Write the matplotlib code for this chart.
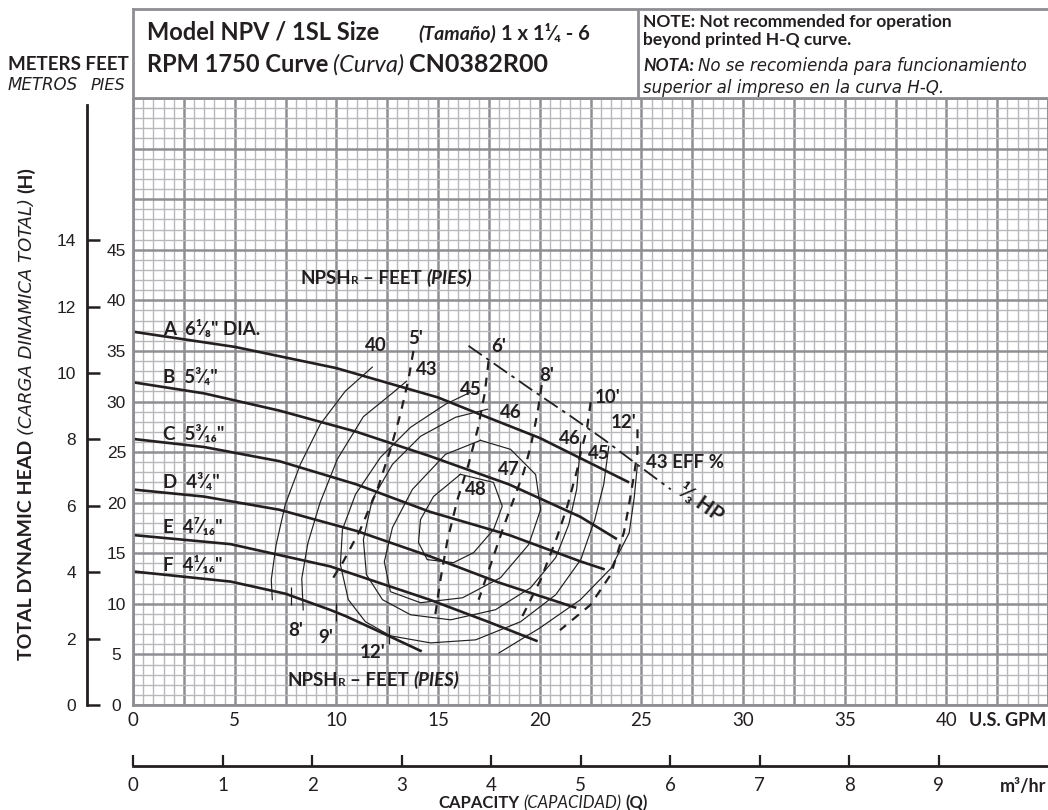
import numpy as np
import matplotlib
matplotlib.use('Agg')
import matplotlib.pyplot as plt
from matplotlib.transforms import IdentityTransform

plt.rcParams['font.family'] = ['Lato', 'DejaVu Sans']

INK = '#231f20'
GRID_MAJOR = '#8e8e93'
GRID_MINOR = '#b8b8bc'
PLAIN = ['Liberation Sans', 'DejaVu Sans']
WIDE = ['DejaVu Sans']

W, H = 1048, 810

# impeller head curves, U.S. GPM / feet
a_q = [0, 5, 10, 15, 17.1, 20, 22, 24.4]
a_h = [36.9, 35.4, 33.3, 30.4, 28.7, 26.4, 24.4, 22.0]
b_q = [0, 3.5, 7.2, 11, 14.6, 18.5, 22, 23.8]
b_h = [31.9, 30.8, 29.1, 27.0, 24.6, 21.8, 18.6, 16.4]
c_q = [0, 3.5, 7.2, 11, 14.6, 18.5, 22, 23.2]
c_h = [26.3, 25.5, 24.1, 21.8, 19.1, 16.8, 14.2, 13.4]
d_q = [0, 3.5, 7.2, 11, 14.6, 18, 21.8]
d_h = [21.3, 20.6, 19.3, 17.2, 14.7, 12.1, 9.6]
e_q = [0, 4.8, 9.7, 14.6, 17.5, 19.9]
e_h = [16.8, 15.9, 13.7, 10.4, 8.2, 6.3]
f_q = [0, 4.8, 7.5, 9.7, 10.5, 12.5, 14.2]
f_h = [13.2, 12.2, 11.0, 9.4, 8.75, 6.9, 5.3]

imp_labels = ['A  6¹⁄₈" DIA.', 'B  5³⁄₄"', 'C  5³⁄₁₆"', 'D  4³⁄₄"', 'E  4⁷⁄₁₆"', 'F  4¹⁄₁₆"']
imp_label_h = [37.2, 32.4, 26.8, 22.0, 17.6, 13.8]

# efficiency contours
eff40_q = [11.77, 10.44, 9.21, 8.23, 7.49, 7.04, 6.80, 6.85]
eff40_h = [33.40, 31.02, 27.75, 23.79, 19.82, 15.86, 12.39, 10.41]
eff43a_q = [13.45, 12.8, 11.33, 10.05, 9.2, 8.6, 8.3, 8.37]
eff43a_h = [32.0, 30.9, 28.5, 24.3, 20.0, 16.0, 12.5, 9.4]
eff43b_q = [18.0, 20.0, 22.0, 23.5, 24.4, 24.65, 24.8]
eff43b_h = [5.15, 7.6, 10.4, 13.5, 17.0, 20.5, 23.6]
eff45_q = [16.60, 15.37, 13.65, 12.17, 10.94, 10.30, 10.2, 10.59, 11.43, 12.66, 14.63,
           16.85, 19.06, 20.79, 22.02, 22.71, 23.15, 23.40]
eff45_h = [30.92, 29.73, 27.45, 24.48, 20.81, 17.34, 13.88, 10.41, 8.23, 6.84, 6.14,
           6.44, 8.23, 10.90, 14.37, 18.33, 21.8, 25.57]
eff46_q = [17.44, 15.86, 14.14, 12.76, 11.77, 11.33, 11.48, 12.27, 13.65, 15.62, 17.83,
           19.56, 20.79, 21.43, 21.82, 22.02]
eff46_h = [29.24, 28.44, 26.56, 23.79, 20.32, 16.35, 12.88, 10.41, 8.92, 8.42, 9.42,
           11.6, 14.57, 17.84, 21.31, 25.97]
eff47_q = [17.09, 18.57, 19.80, 20.05, 19.46, 18.08, 16.21, 14.14, 12.66, 12.36, 12.76,
           13.74, 15.37, 17.09]
eff47_h = [26.16, 25.27, 22.79, 19.33, 15.86, 12.59, 10.60, 10.11, 11.20, 14.17, 17.54,
           21.31, 24.78, 26.16]
eff48_q = [16.1, 17.73, 18.16, 17.73, 16.75, 15.76, 14.47, 14.04, 14.14, 14.78, 16.1]
eff48_h = [22.8, 22.0, 19.65, 17.34, 15.06, 14.07, 14.37, 16.06, 18.33, 20.61, 22.8]

eff_labels = ['40', '43', '45', '46', '47', '48', '46', '45']
eff_label_q = [11.95, 14.43, 16.6, 18.57, 18.5, 16.85, 21.5, 22.93]
eff_label_h = [35.5, 33.2, 31.2, 28.9, 23.3, 21.3, 26.3, 24.9]

# NPSHr lines
npsh5_q = [13.79, 13.55, 13.15, 12.66, 12.02, 11.18, 10.34, 9.85]
npsh5_h = [34.99, 32.21, 28.74, 25.27, 21.31, 17.34, 14.17, 12.59]
npsh6_q = [17.49, 17.29, 16.95, 16.5, 15.96, 15.47, 15.12, 14.83]
npsh6_h = [33.99, 30.72, 27.25, 23.79, 20.32, 16.35, 12.39, 8.42]
npsh8_q = [20.1, 19.9, 19.56, 19.21, 18.72, 18.23, 17.59, 17.0]
npsh8_h = [31.62, 28.94, 25.57, 22.99, 20.32, 17.64, 13.88, 10.41]
npsh10_q = [22.51, 22.32, 22.02, 21.85, 21.36, 20.87, 20.05, 19.06]
npsh10_h = [29.93, 27.25, 24.98, 23.29, 19.65, 16.68, 12.39, 8.42]
npsh12_q = [24.81, 24.81, 24.63, 24.38, 24.14, 23.5, 22.5, 21.0]
npsh12_h = [27.25, 24.98, 22.6, 19.62, 17.05, 12.9, 9.9, 7.4]

npsh_labels = ["5'", "6'", "8'", "10'", "12'", "8'", "9'", "12'"]
npsh_label_q = [13.92, 18.0, 20.34, 23.35, 24.11, 8.0, 9.46, 11.77]
npsh_label_h = [36.2, 35.4, 32.6, 30.4, 27.9, 7.4, 6.7, 5.2]

# NPSH ticks on the F curve
tick_q = [7.75, 10.0, 12.6]
tick_h = [10.8, 9.2, 6.9]

# 1/3 HP line
hp_q = [16.5, 17.44, 19.56, 21.53, 23.15, 24.98, 26.45]
hp_h = [35.5, 34.19, 31.22, 28.54, 26.26, 23.49, 21.31]

gpm_ticks = np.arange(0, 45.01, 2.5)
ft_ticks = np.arange(0, 60.01, 5)
m3_ticks = np.arange(0, 10)
m_ticks = np.arange(0, 15, 2)

fig = plt.figure(figsize=(W / 100, H / 100), dpi=100)
renderer = fig.canvas.get_renderer()


def chain(x, y, pieces, rotation=0, center=False):
    # x, y in image pixels (y from top); pieces drawn one after another
    texts = []
    x0 = x
    gap = 0
    for s, kw, gap in pieces:
        t = fig.text(x, H - y, s, transform=IdentityTransform(), rotation=rotation,
                     rotation_mode='anchor', ha='left', va='baseline', color=INK, **kw)
        bb = t.get_window_extent(renderer)
        texts.append(t)
        if rotation == 90:
            y -= bb.height + gap
        else:
            x += bb.width + gap
    if center:
        shift = (x - gap - x0) / 2
        for t in texts:
            px, py = t.get_position()
            t.set_position((px - shift, py))


# main chart
ax = fig.add_axes([133 / W, 105 / H, 915 / W, 607 / H])
ax.set_xlim(0, 45)
ax.set_ylim(0, 60)
ax.set_xticks(gpm_ticks)
ax.set_xticks(np.arange(0, 45.01, 0.5), minor=True)
ax.set_yticks(ft_ticks)
ax.set_yticks(np.arange(0, 60.01, 1), minor=True)
ax.set_xticklabels([f'{v:g}' if v % 5 == 0 and v <= 40 else '' for v in gpm_ticks],
                   fontsize=13.5, color=INK)
ax.set_yticklabels([f'{v:g}' if v <= 45 else '' for v in ft_ticks],
                   family=PLAIN, fontsize=12.5, color=INK, ha='center')
ax.tick_params(which='both', length=0)
ax.tick_params(axis='x', pad=5)
ax.tick_params(axis='y', pad=12)
ax.grid(which='minor', color=GRID_MINOR, lw=1.0)
ax.grid(which='major', color=GRID_MAJOR, lw=1.8)
ax.set_axisbelow(True)
for s in ax.spines.values():
    s.set_color(GRID_MAJOR)
    s.set_linewidth(2)

for q, h in [(a_q, a_h), (b_q, b_h), (c_q, c_h), (d_q, d_h), (e_q, e_h), (f_q, f_h)]:
    ax.plot(q, h, color=INK, lw=1.9, solid_capstyle='butt')

for q, h in [(eff40_q, eff40_h), (eff43a_q, eff43a_h), (eff43b_q, eff43b_h),
             (eff45_q, eff45_h), (eff46_q, eff46_h), (eff47_q, eff47_h), (eff48_q, eff48_h)]:
    ax.plot(q, h, color=INK, lw=0.85)

for q, h in [(npsh5_q, npsh5_h), (npsh6_q, npsh6_h), (npsh8_q, npsh8_h),
             (npsh10_q, npsh10_h), (npsh12_q, npsh12_h)]:
    ax.plot(q, h, color=INK, lw=1.6, linestyle=(0, (4, 3.5)))

ax.plot(tick_q, tick_h, linestyle='none', marker='|', ms=13, mew=0.9, color=INK)
ax.plot(hp_q, hp_h, color=INK, lw=1.3, linestyle=(0, (9, 3, 2, 3)))

lab = dict(fontsize=13.5, fontweight='bold', color=INK)
for s, h in zip(imp_labels, imp_label_h):
    ax.text(1.48, h, s, ha='left', va='center', **lab)
for s, q, h in zip(eff_labels, eff_label_q, eff_label_h):
    ax.text(q, h, s, ha='center', va='center', **lab)
for s, q, h in zip(npsh_labels, npsh_label_q, npsh_label_h):
    ax.text(q, h, s, ha='center', va='center', **lab)
ax.text(25.22, 24.0, '43 EFF %', ha='left', va='center', **lab)
ax.text(27.9, 20.0, '¹⁄₃ HP', ha='center', va='center', rotation=-35,
        fontsize=15, fontweight='bold', color=INK)


def npsh_title(q, h):
    x, y = ax.transData.transform((q, h))
    bold = dict(fontsize=13.5, fontweight='bold')
    chain(x, H - y, [('NPSH', bold, 0), ('R', dict(fontsize=8.5, fontweight='bold'), 4),
                     ('– FEET', bold, 5),
                     ('(PIES)', dict(fontsize=13.5, fontweight='bold', style='italic'), 0)])


npsh_title(8.23, 41.6)
npsh_title(7.59, 1.9)

# m3/hr scale
axm = fig.add_axes([133 / W, (H - 766) / H, 915 / W, 0.0001])
axm.set_xlim(0, 45 / 4.40287)
axm.set_xticks(m3_ticks)
axm.set_xticklabels([str(v) for v in m3_ticks], fontsize=13.5, color=INK)
axm.set_yticks([])
for k in ['left', 'right', 'top']:
    axm.spines[k].set_visible(False)
axm.spines['bottom'].set_color(INK)
axm.spines['bottom'].set_linewidth(2)
axm.tick_params(axis='x', direction='in', length=8, width=1.6, color=INK, pad=8)
axm.patch.set_visible(False)

# meters scale
axh = fig.add_axes([87 / W, 105 / H, 0.0001, 600 / H])
axh.set_ylim(0, 60 * 600 / 607 / 3.28084)
axh.set_yticks(m_ticks)
axh.set_yticklabels([str(v) for v in m_ticks], family=PLAIN, fontsize=12.5, color=INK)
axh.set_xticks([])
for k in ['right', 'top', 'bottom']:
    axh.spines[k].set_visible(False)
axh.spines['left'].set_color(INK)
axh.spines['left'].set_linewidth(2)
axh.tick_params(axis='y', direction='in', length=9, width=1.8, color=INK, pad=8)
axh.patch.set_visible(False)

# header box
axt = fig.add_axes([133 / W, (H - 98) / H, 915 / W, 89 / H])
axt.set_xticks([])
axt.set_yticks([])
for k, s in axt.spines.items():
    s.set_color(GRID_MAJOR)
    s.set_linewidth(2)
axt.spines['right'].set_visible(False)
axt.axvline((638 - 133) / 915, color=GRID_MAJOR, lw=2)

tb = dict(fontsize=17, fontweight='bold')
chain(147, 40, [('Model NPV / 1SL Size', tb, 0)])
chain(418, 40, [('(Tamaño)', dict(fontsize=14, fontweight='bold', style='italic'), 5),
                ('1 x 1¹⁄₄ - 6', dict(fontsize=14.5, fontweight='bold'), 0)])
chain(147, 72, [('RPM 1750 Curve', tb, 5), ('(Curva)', dict(fontsize=17, style='italic'), 5),
                ('CN0382R00', dict(fontsize=18, fontweight='bold'), 0)])

nb = dict(fontsize=12.5, fontweight='bold')
ni = dict(fontsize=12, style='italic', family=WIDE)
chain(643, 27, [('NOTE: Not recommended for operation', nb, 0)])
chain(643, 45, [('beyond printed H-Q curve.', nb, 0)])
chain(643, 71, [('NOTA:', dict(fontsize=12.5, fontweight='bold', style='italic'), 4),
                ('No se recomienda para funcionamiento', ni, 0)])
chain(643, 93, [('superior al impreso en la curva H-Q.', ni, 0)])

chain(8, 70, [('METERS FEET', dict(fontsize=13.5, fontweight='bold'), 0)])
chain(8, 90, [('METROS', dict(fontsize=12, style='italic', family=WIDE), 0)])
chain(91, 90, [('PIES', dict(fontsize=11.5, style='italic', family=WIDE), 0)])

chain(32, 660, [('TOTAL DYNAMIC HEAD', dict(fontsize=14, fontweight='bold'), 5),
                ('(CARGA DINAMICA TOTAL)', dict(fontsize=13, style='italic', family=WIDE), 5),
                ('(H)', dict(fontsize=14, fontweight='bold'), 0)], rotation=90)

fig.text(1046, H - 726, 'U.S. GPM', transform=IdentityTransform(), ha='right',
         va='baseline', fontsize=13, fontweight='bold', color=INK)
fig.text(1046, H - 792, 'm³/hr', transform=IdentityTransform(), ha='right',
         va='baseline', fontsize=13, fontweight='bold', color=INK)
chain(543, 808, [('CAPACITY', dict(fontsize=12, fontweight='bold'), 4),
                 ('(CAPACIDAD)', dict(fontsize=12, style='italic'), 4),
                 ('(Q)', dict(fontsize=12, fontweight='bold'), 0)], center=True)

fig.savefig('out.png', dpi=100)
